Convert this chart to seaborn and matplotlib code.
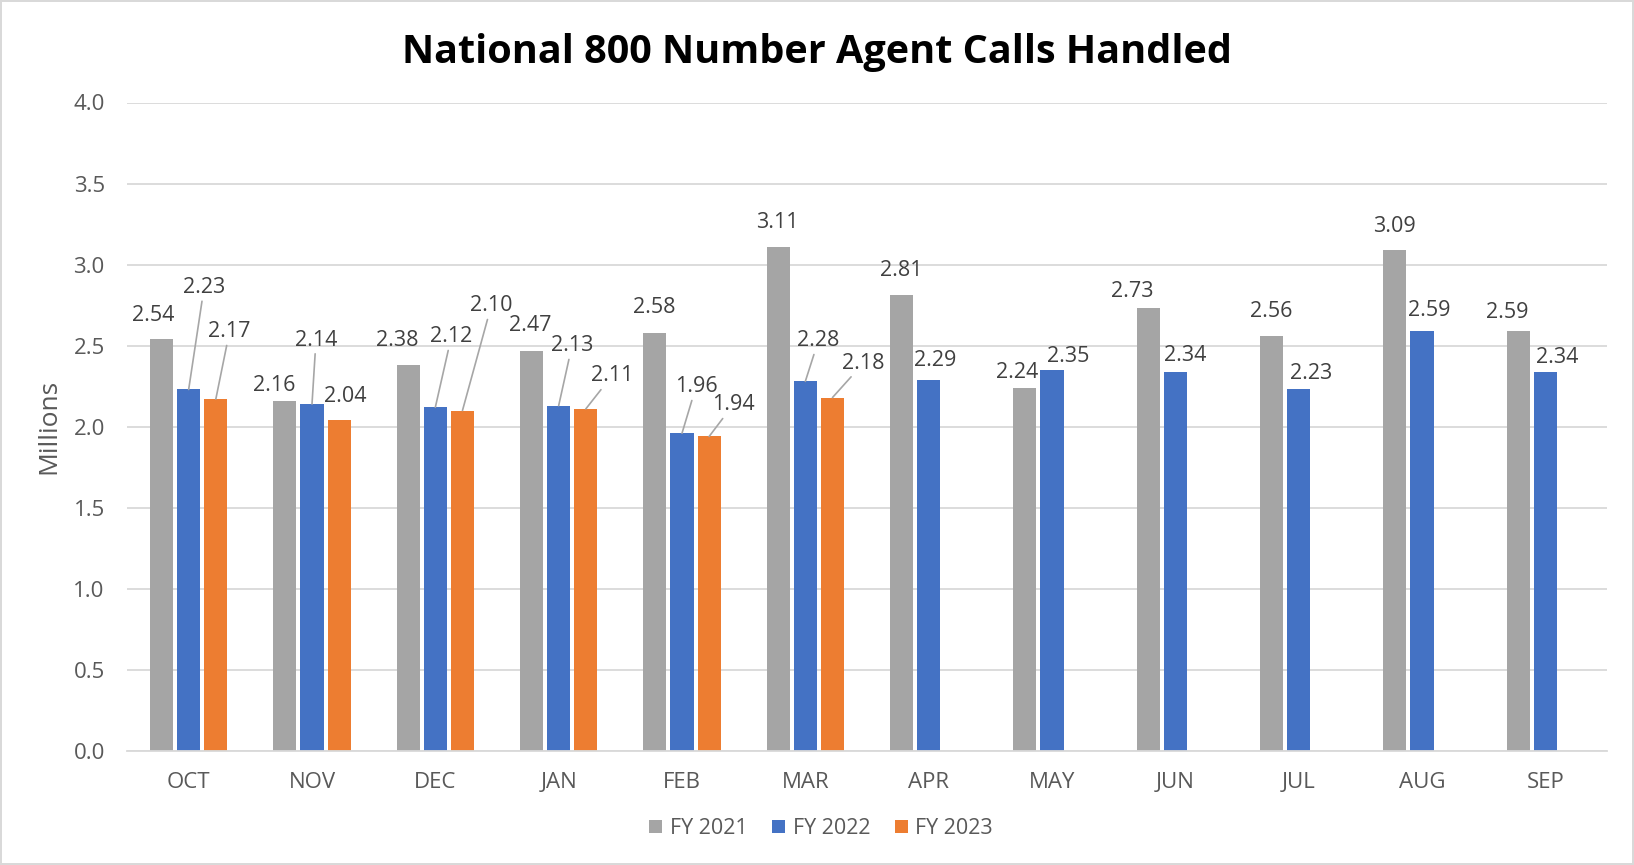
import pandas as pd
import seaborn as sns
import matplotlib.pyplot as plt

# Monthly agent calls handled, in millions
months = ['OCT', 'NOV', 'DEC', 'JAN', 'FEB', 'MAR',
          'APR', 'MAY', 'JUN', 'JUL', 'AUG', 'SEP']
fy2021 = [2.54, 2.16, 2.38, 2.47, 2.58, 3.11, 2.81, 2.24, 2.73, 2.56, 3.09, 2.59]
fy2022 = [2.23, 2.14, 2.12, 2.13, 1.96, 2.28, 2.29, 2.35, 2.34, 2.23, 2.59, 2.34]
fy2023 = [2.17, 2.04, 2.10, 2.11, 1.94, 2.18]
series_names = ['FY 2021', 'FY 2022', 'FY 2023']
colors = ['#A5A5A5', '#4472C4', '#ED7D31']

# label placement relative to the bar top (pixels), and whether a leader line is drawn
offsets = {
    'FY 2021': [(-8, 23.5), (-11, 15), (-10.6, 24.4), (-1, 25), (-1, 25.3), (-1, 24),
                (-0.5, 24.8), (-8, 15.4), (-16.4, 17), (-0.7, 24.6), (-0.7, 23.4), (-10.7, 18.7)],
    'FY 2022': [(15.4, 102), (4, 64), (16, 70.6), (13.3, 60), (14, 46.5), (13, 40.6),
                (6.5, 19), (16.5, 13.6), (10, 16), (12.3, 16.4), (7.6, 20.4), (12.3, 14.2)],
    'FY 2023': [(13.7, 67.5), (6, 24), (28.8, 104.8), (26, 33), (24, 31.7), (31, 34.5)],
}
leaders = {
    'FY 2021': [False] * 12,
    'FY 2022': [True] * 6 + [False] * 6,
    'FY 2023': [True, False, True, True, True, True],
}

rows = []
for name, vals in zip(series_names, [fy2021, fy2022, fy2023]):
    for m, v in zip(months, vals):
        rows.append({'month': m, 'calls': v, 'fy': name})
df = pd.DataFrame(rows)

sns.set_theme(style='white')
plt.rcParams['font.family'] = ['Open Sans', 'DejaVu Sans']

fig = plt.figure(figsize=(16.34, 8.65), dpi=100)
ax = fig.add_axes([127 / 1634, 1 - 751 / 865, 1480 / 1634, 648.5 / 865])

sns.barplot(data=df, x='month', y='calls', hue='fy', order=months,
            hue_order=series_names, palette=colors, saturation=1,
            width=0.66, gap=0.15, errorbar=None, linewidth=0, ax=ax)

ax.set_ylim(0, 4.0)
ax.set_xlim(-0.5, 11.5)
ax.set_yticks([i * 0.5 for i in range(9)])
ax.set_yticklabels([f'{i * 0.5:.1f}' for i in range(9)])
ax.yaxis.grid(True, color='#D9D9D9', linewidth=1.3)
ax.set_axisbelow(True)
for side in ['top', 'right', 'left']:
    ax.spines[side].set_visible(False)
ax.spines['bottom'].set_color('#D9D9D9')
ax.spines['bottom'].set_linewidth(1.3)
ax.tick_params(axis='both', length=0, labelsize=16, labelcolor='#595959')
ax.tick_params(axis='y', pad=16)
ax.tick_params(axis='x', pad=15)
ax.set_xlabel('')
ax.set_ylabel('')

# data labels
pt = 72 / fig.dpi
for name, cont, vals in zip(series_names, ax.containers, [fy2021, fy2022, fy2023]):
    for bar, v, (dx, dy), lead in zip(cont, vals, offsets[name], leaders[name]):
        x = bar.get_x() + bar.get_width() / 2
        y = bar.get_height()
        arrow = dict(arrowstyle='-', color='#A6A6A6', lw=1.2, shrinkA=0, shrinkB=0) if lead else None
        ax.annotate(f'{v:.2f}', xy=(x, y), xytext=(dx * pt, dy * pt),
                    textcoords='offset points', ha='center', va='center',
                    fontsize=15.5, color='#404040', arrowprops=arrow)

fig.text(49 / 1634, 1 - 426 / 865, 'Millions', rotation=90, ha='center', va='center',
         fontsize=19, color='#595959')
fig.text(0.5, 1 - 52 / 865, 'National 800 Number Agent Calls Handled', ha='center',
         va='center', fontsize=28.5, fontweight='bold', color='black')

sns.move_legend(ax, 'center', bbox_to_anchor=(0.5025, 0.042), bbox_transform=fig.transFigure,
                ncol=3, frameon=False, title=None, fontsize=15.5, labelcolor='#595959',
                handlelength=0.6, handleheight=0.6, handletextpad=0.35, columnspacing=1.15)

fig.patch.set_edgecolor('#D9D9D9')
fig.patch.set_linewidth(1.5)

fig.savefig('out.png', dpi=100, edgecolor=fig.get_edgecolor())
